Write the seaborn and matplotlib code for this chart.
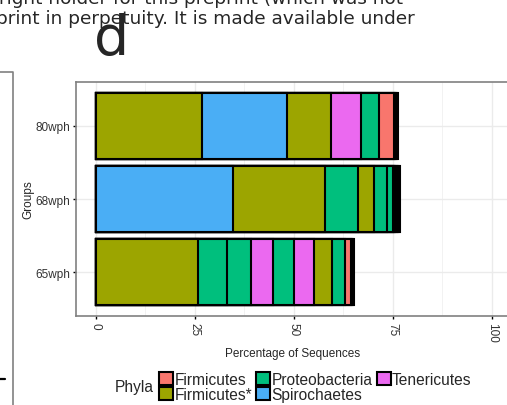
import pandas as pd
import numpy as np
import matplotlib.pyplot as plt
import seaborn as sns
from matplotlib.patches import Patch
from matplotlib.lines import Line2D

# Data: each bar is split in segments (left to right), phylum + percentage
groups = ['80wph', '68wph', '65wph']
phyla = ['Firmicutes', 'Firmicutes*', 'Proteobacteria', 'Spirochaetes', 'Tenericutes']
phyla_colors = ['#F8766D', '#9CA500', '#00BF7D', '#4AAEF5', '#EB69F0']

phyla_80wph = ['Firmicutes*', 'Spirochaetes', 'Firmicutes*', 'Tenericutes', 'Proteobacteria',
               'Firmicutes', 'Proteobacteria', 'Firmicutes*', 'Proteobacteria', 'Firmicutes*']
pct_80wph = [26.9, 21.4, 11.2, 7.5, 4.5, 3.7, 0.3, 0.3, 0.3, 0.3]

phyla_68wph = ['Spirochaetes', 'Firmicutes*', 'Proteobacteria', 'Firmicutes*', 'Proteobacteria',
               'Proteobacteria', 'Proteobacteria', 'Firmicutes*', 'Proteobacteria', 'Firmicutes*',
               'Proteobacteria', 'Firmicutes*']
pct_68wph = [34.6, 23.2, 8.5, 4.0, 3.3, 1.5, 0.3, 0.3, 0.3, 0.3, 0.3, 0.3]

phyla_65wph = ['Firmicutes*', 'Proteobacteria', 'Proteobacteria', 'Tenericutes', 'Proteobacteria',
               'Tenericutes', 'Firmicutes*', 'Proteobacteria', 'Firmicutes', 'Proteobacteria',
               'Firmicutes*', 'Proteobacteria']
pct_65wph = [25.7, 7.4, 6.0, 5.7, 5.3, 4.9, 4.7, 3.3, 1.4, 0.3, 0.3, 0.3]

x_ticks = [0, 25, 50, 75, 100]

# Build long table with cumulative ends of the segments
rows = []
for g, ph, pc in zip(groups, [phyla_80wph, phyla_68wph, phyla_65wph],
                     [pct_80wph, pct_68wph, pct_65wph]):
    ends = np.cumsum(pc)
    for k, (p, e) in enumerate(zip(ph, ends)):
        rows.append({'group': g, 'phylum': p, 'seg': k, 'end': e})
df = pd.DataFrame(rows)

sns.set_style('white')
plt.rcParams['font.family'] = ['Liberation Sans', 'DejaVu Sans']

fig = plt.figure(figsize=(5.07, 4.06), dpi=100)
ax = fig.add_axes([76 / 507, 89 / 406, 435.5 / 507, 234 / 406])

palette = dict(zip(phyla, phyla_colors))

# stacked bars: draw cumulative totals, longest first, so each shorter one covers the rest
for k in sorted(df['seg'].unique(), reverse=True):
    sub = df[df['seg'] == k]
    sns.barplot(data=sub, x='end', y='group', hue='phylum', order=groups,
                hue_order=phyla, palette=palette, dodge=False, width=0.9,
                saturation=1, errorbar=None, edgecolor='black', linewidth=1.5,
                legend=False, orient='h', ax=ax)

ax.set_xlim(-5, 105)
ax.set_ylim(2.6, -0.6)
ax.set_xticks(x_ticks)
ax.set_xticks([12.5, 37.5, 62.5, 87.5], minor=True)
ax.set_xticklabels([str(t) for t in x_ticks], rotation=-90, fontsize=8.5, color='#333333')
ax.set_yticks(range(len(groups)))
ax.set_yticklabels(groups, fontsize=8.5, color='#333333')
ax.tick_params(axis='both', which='major', length=2.5, width=1, color='black', pad=2,
               bottom=True, left=True)
ax.tick_params(axis='x', which='minor', length=0)

# theme_bw like grid and border
ax.set_axisbelow(True)
ax.grid(True, which='major', color='#EBEBEB', linewidth=1.0)
ax.grid(True, which='minor', axis='x', color='#F2F2F2', linewidth=0.7)
for s in ax.spines.values():
    s.set_color('#808080')
    s.set_linewidth(1.2)

ax.set_xlabel('Percentage of Sequences', fontsize=8.5)
ax.set_ylabel('Groups', fontsize=8.5)
ax.xaxis.set_label_coords((293 - 76) / 435.5, -(348 - 317) / 234)
ax.yaxis.set_label_coords(-(76 - 34) / 435.5, 0.5)

# legend, title on the left
handles = [Patch(facecolor=c, edgecolor='black', linewidth=1.5, label=p)
           for p, c in zip(phyla, phyla_colors)]
fig.legend(handles=handles, ncol=3, loc='center left', bbox_to_anchor=(159 / 507, 1 - 388 / 406),
           frameon=False, fontsize=11.2, handlelength=0.9, handleheight=0.95,
           handletextpad=0.1, columnspacing=0.25, labelspacing=0.0, borderpad=0,
           borderaxespad=0)
fig.text(115 / 507, 1 - 388 / 406, 'Phyla', fontsize=11.2, va='center', ha='left')

# bits of the page around the panel
fig.text(403 / 507, 1 - 4.5 / 406, 'right holder for this preprint (which was not',
         fontsize=13.3, ha='right', va='baseline', family=['DejaVu Sans'])
fig.text(415 / 507, 1 - 23.5 / 406, 'print in perpetuity. It is made available under',
         fontsize=13.3, ha='right', va='baseline', family=['DejaVu Sans'])
fig.text(111.5 / 507, 1 - 55 / 406, 'd', fontsize=40, ha='center', va='baseline',
         family=['DejaVu Sans'])
fig.add_artist(Line2D([12.7 / 507, 12.7 / 507, 0], [0, 1 - 73 / 406, 1 - 73 / 406],
                      color='#808080', linewidth=1.2, transform=fig.transFigure))
fig.add_artist(Line2D([0, 5 / 507], [1 - 380 / 406, 1 - 380 / 406],
                      color='black', linewidth=1.6, transform=fig.transFigure))

fig.savefig('out.png', dpi=100)
